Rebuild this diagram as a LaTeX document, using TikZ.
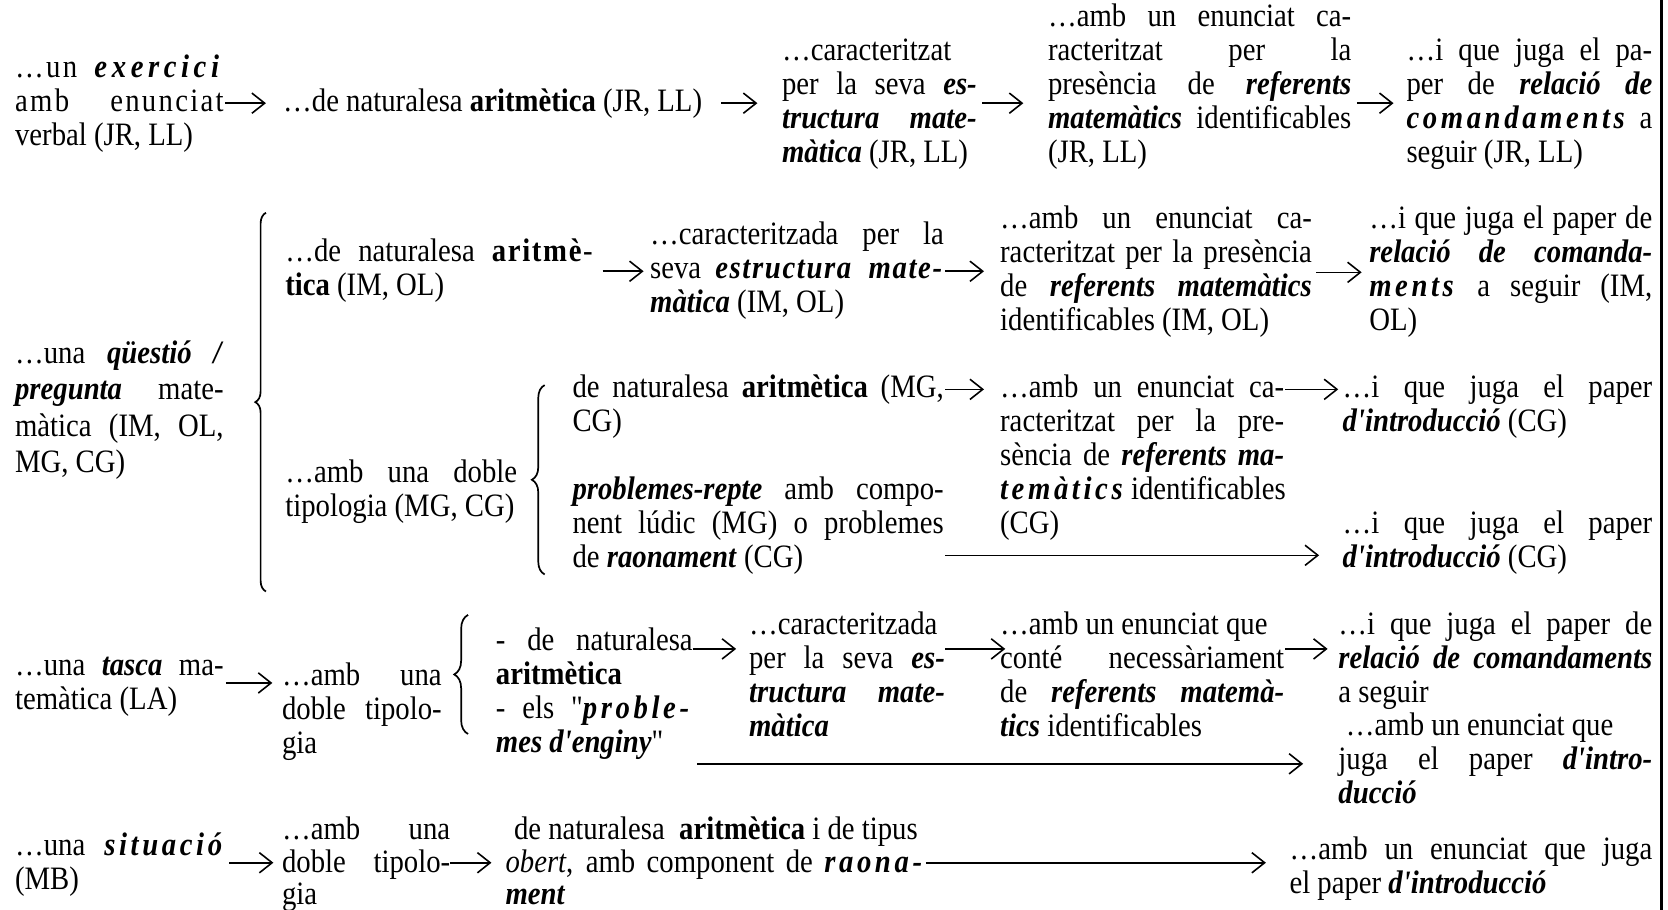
\documentclass[tikz,border=0pt]{standalone}
\usepackage{fontspec}
\setmainfont{Liberation Serif}[FakeStretch=0.88, Ligatures=TeXOff]
\usetikzlibrary{arrows.meta,decorations.pathreplacing}
\newcommand\bi[1]{\textbf{\textit{#1}}}
\newcommand\ls[2]{{\addfontfeature{LetterSpace=#1}#2}}
\newcommand\lsp[1]{\ls{11}{#1}}
\newcommand\lspl[1]{\ls{5}{#1}}
\newcommand\J[2]{\makebox[#1pt][s]{#2}}
\tikzset{
 txt/.style={anchor=north west, inner sep=0pt, align=left, font=\fontsize{30.7}{32}\selectfont},
 arr/.style={line width=1.5pt, -{Straight Barb[length=12pt,width=19pt,line width=1.5pt]}},
 brc/.style={line width=1.6pt, decorate, decoration={brace, amplitude=#1}},
}
\begin{document}
\begin{tikzpicture}[x=1pt,y=-1pt]
\useasboundingbox (0,0) rectangle (1568,855);
% row 1
\node[txt] (a1) at (14,50) {\strut\J{196}{\ls{7}{…un} \bi{\ls{14}{exercici}}}\\ \J{196}{\ls{7}{amb} \ls{7}{enunciat}}\\ verbal (JR, LL)};
\node[txt] (b1) at (266,82) {\strut…de naturalesa \textbf{aritmètica} (JR, LL)};
\node[txt] (c1) at (735,34) {\strut…caracteritzat\\ \J{183}{per la seva \bi{es-}}\\ \J{183}{\bi{tructura mate-}}\\ \bi{màtica} (JR, LL)};
\node[txt] (d1) at (985,2) {\strut\J{285}{…amb un enunciat ca-}\\ \J{285}{racteritzat per la}\\ \J{285}{presència de \bi{referents}}\\ \J{285}{\bi{matemàtics} identificables}\\ (JR, LL)};
\node[txt] (e1) at (1322,34) {\strut\J{231}{…i que juga el pa-}\\ \J{231}{per de \bi{relació de}}\\ \J{231}{\bi{\lsp{comandaments}} a}\\ seguir (JR, LL)};
% row 2
\node[txt, font=\fontsize{30.7}{34}\selectfont] (q2) at (14,318) {\strut\J{196}{…una \bi{qüestió /}}\\ \J{196}{\bi{pregunta} mate-}\\ \J{196}{màtica (IM, OL,}\\ MG, CG)};
\node[txt] (f2) at (268,223) {\strut\J{289}{…de naturalesa \textbf{\lspl{aritmè}}-}\\ \textbf{tica} (IM, OL)};
\node[txt] (g2) at (611,207) {\strut\J{276}{…caracteritzada per la}\\ \J{276}{seva \bi{\lspl{estructura mate-}}}\\ \bi{màtica} (IM, OL)};
\node[txt] (h2) at (940,192) {\strut\J{293}{…amb un enunciat ca-}\\ \J{293}{racteritzat per la presència}\\ \J{293}{de \bi{referents matemàtics}}\\ identificables (IM, OL)};
\node[txt] (i2) at (1287,192) {\strut\J{266}{…i que juga el paper de}\\ \J{266}{\bi{relació de comanda-}}\\ \J{266}{\bi{\lsp{ments}} a seguir (IM,}\\ OL)};
\node[txt] (j2) at (268,431) {\strut\J{218}{…amb una doble}\\ tipologia (MG, CG)};
\node[txt] (k2a) at (538,351) {\strut\J{349}{de naturalesa \textbf{aritmètica} (MG,}\\ CG)};
\node[txt] (k2b) at (538,447) {\strut\J{349}{\bi{problemes-repte} amb compo-}\\ \J{349}{nent lúdic (MG) o problemes}\\ de \bi{raonament} (CG)};
\node[txt] (l2) at (940,351) {\strut\J{267}{…amb un enunciat ca-}\\ \J{267}{racteritzat per la pre-}\\ \J{267}{sència de \bi{referents ma-}}\\ \J{267}{\bi{\lsp{temàtics}} identificables}\\ (CG)};
\node[txt] (m2a) at (1262,351) {\strut\J{291}{…i que juga el paper}\\ \bi{d'introducció} (CG)};
\node[txt] (m2b) at (1262,479) {\strut\J{291}{…i que juga el paper}\\ \bi{d'introducció} (CG)};
% row 3
\node[txt] (n3) at (14,612) {\strut\J{196}{…una \bi{tasca} ma-}\\ temàtica (LA)};
\node[txt] (o3) at (265,622) {\strut\J{150}{…amb una}\\ \J{150}{doble tipolo-}\\ gia};
\node[txt] (p3) at (466,589) {\strut\J{185}{- de naturalesa}\\ \textbf{aritmètica}\\ \J{185}{- els "\bi{\lsp{proble-}}}\\ \bi{mes d'enginy}"};
\node[txt] (q3) at (704,574) {\strut…caracteritzada\\ \J{184}{per la seva \bi{es-}}\\ \J{184}{\bi{tructura mate-}}\\ \bi{màtica}};
\node[txt] (r3) at (940,574) {\strut…amb un enunciat que\\ \J{267}{conté necessàriament}\\ \J{267}{de \bi{referents matemà-}}\\ \bi{tics} identificables};
\node[txt] (s3) at (1258,574) {\strut\J{295}{…i que juga el paper de}\\ \J{295}{\bi{relació de comandaments}}\\ a seguir};
\node[txt] (t3) at (1258,669) {\strut\hspace{7pt}…amb un enunciat que\\ \J{295}{juga el paper \bi{d'intro-}}\\ \bi{ducció}};
% row 4
\node[txt] (u4) at (14,782) {\strut\J{198}{…una \bi{\lsp{situació}}}\\ (MB)};
\node[txt, font=\fontsize{30.7}{30}\selectfont] (v4) at (265,767.5) {\strut\J{158}{…amb una}\\ \J{158}{doble tipolo-}\\ gia};
\node[txt, font=\fontsize{30.7}{30}\selectfont] (w4) at (475,767.5) {\strut\makebox[395pt][l]{\hspace{8pt}de naturalesa\ \ \textbf{aritmètica} i de tipus}\\ \J{395}{\textit{obert}, amb component de \bi{\lsp{raona-}}}\\ \bi{ment}};
\node[txt] (x4) at (1212,785) {\strut\J{341}{…amb un enunciat que juga}\\ el paper \bi{d'introducció}};
% arrows
\draw[arr, shorten <=1pt, shorten >=16pt] (a1.east |- 0,97) -- (b1.west |- 0,97);
\draw[arr, shorten <=18pt, shorten >=23pt] (b1.east |- 0,97) -- (c1.west |- 0,97);
\draw[arr, shorten <=5pt, shorten >=23pt] (c1.east |- 0,97) -- (d1.west |- 0,97);
\draw[arr, shorten <=5pt, shorten >=12pt] (d1.east |- 0,97) -- (e1.west |- 0,97);
\draw[arr, shorten <=9pt, shorten >=6pt] (f2.east |- 0,255) -- (g2.west |- 0,255);
\draw[arr, shorten <=1pt, shorten >=15pt] (g2.east |- 0,255) -- (h2.west |- 0,255);
\draw[arr, shorten <=4pt, shorten >=7pt] (h2.east |- 0,256) -- (i2.west |- 0,256);
\draw[arr, shorten <=1pt, shorten >=15pt] (k2a.east |- 0,366) -- (l2.west |- 0,366);
\draw[arr, shorten <=1pt, shorten >=4pt] (l2.east |- 0,366) -- (m2a.west |- 0,366);
\draw[arr, shorten <=1pt, shorten >=22pt] (k2b.east |- 0,522) -- (m2b.west |- 0,522);
\draw[arr, shorten <=2pt, shorten >=9pt] (n3.east |- 0,642) -- (o3.west |- 0,642);
\draw[arr, shorten <=0pt, shorten >=12pt] (p3.east |- 0,610) -- (q3.west |- 0,610);
\draw[arr, shorten <=0pt, shorten >=-5pt] (q3.east |- 0,610) -- (r3.west |- 0,610);
\draw[arr, shorten <=1pt, shorten >=10pt] (r3.east |- 0,610) -- (s3.west |- 0,610);
\draw[arr, shorten <=4pt, shorten >=33pt] (p3.east |- 0,718) -- (t3.west |- 0,718);
\draw[arr, shorten <=3pt, shorten >=8pt] (u4.east |- 0,811) -- (v4.west |- 0,811);
\draw[arr, shorten <=0pt, shorten >=13pt] (v4.east |- 0,811) -- (w4.west |- 0,811);
\draw[arr, shorten <=0pt, shorten >=22pt] (w4.east |- 0,811) -- (x4.west |- 0,811);
% braces
\draw[brc=10pt] (250,556) -- (250,200);
\draw[brc=12pt] (512,540) -- (512,362);
\draw[brc=13pt] (440,690) -- (440,578);
% right border
\draw[line width=2.5pt] (1562,0) -- (1562,855);
\end{tikzpicture}
\end{document}
